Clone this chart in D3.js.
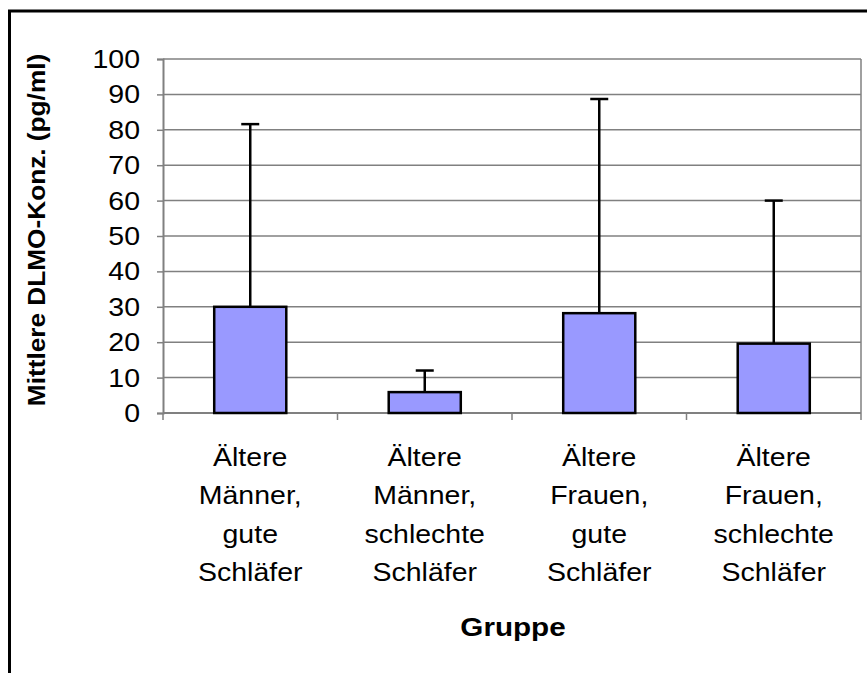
<!DOCTYPE html>
<html>
<head>
<meta charset="utf-8">
<script src="https://cdn.jsdelivr.net/npm/d3@7"></script>
<style>
  html, body { margin: 0; padding: 0; background: #fff; }
  svg { display: block; }
  text { font-family: Arial, "Liberation Sans", sans-serif; fill: #000; }
</style>
</head>
<body>
<svg id="chart" width="867" height="673"></svg>
<script>
// ---- data ----
const categories = [
  ["Ältere", "Männer,", "gute", "Schläfer"],
  ["Ältere", "Männer,", "schlechte", "Schläfer"],
  ["Ältere", "Frauen,", "gute", "Schläfer"],
  ["Ältere", "Frauen,", "schlechte", "Schläfer"]
];
const means = [30, 5.9, 28.2, 19.6];
const errors = [51.6, 6.1, 60.5, 40.4];
const yTicks = [0, 10, 20, 30, 40, 50, 60, 70, 80, 90, 100];
const yTitle = "Mittlere DLMO-Konz. (pg/ml)";
const xTitle = "Gruppe";

// ---- layout ----
const svg = d3.select("#chart");
const plot = { left: 163, right: 861, top: 59, bottom: 413 };
const sx = 1.14; // horizontal text stretch

const ids = categories.map((d, i) => i);
const x = d3.scaleBand().domain(ids).range([plot.left, plot.right])
  .paddingInner(0.587).paddingOuter(0.2935);
const y = d3.scaleLinear().domain([0, 100]).range([plot.bottom, plot.top]);
const step = x.step();

// outer border
svg.append("rect").attr("x", 9.5).attr("y", 11).attr("width", 900).attr("height", 700)
  .attr("fill", "none").attr("stroke", "#000").attr("stroke-width", 3);

// gridlines
svg.append("g").selectAll("line").data(yTicks.filter(t => t > 0)).join("line")
  .attr("x1", plot.left).attr("x2", plot.right)
  .attr("y1", d => y(d)).attr("y2", d => y(d))
  .attr("stroke", "#808080").attr("stroke-width", 1.5);

// right frame line
svg.append("line").attr("x1", plot.right).attr("x2", plot.right)
  .attr("y1", y(100)).attr("y2", y(0))
  .attr("stroke", "#808080").attr("stroke-width", 1.5);

// y axis
const yAxis = d3.axisLeft(y).tickValues(yTicks).tickSize(6).tickFormat("");
const gy = svg.append("g").attr("transform", `translate(${plot.left},0)`).call(yAxis);
gy.select(".domain").attr("stroke", "#808080").attr("stroke-width", 2);
gy.selectAll(".tick line").attr("stroke", "#808080").attr("stroke-width", 1.5);

// y tick labels
svg.append("g").selectAll("text").data(yTicks).join("text")
  .attr("transform", d => `translate(140,${y(d) + 9}) scale(${sx},1)`)
  .attr("text-anchor", "end")
  .style("font-size", "25px")
  .text(d => d);

// x axis
const xTickPos = d3.range(categories.length + 1).map(i => plot.left + i * step);
const gx = svg.append("g");
gx.append("line").attr("x1", plot.left).attr("x2", plot.right)
  .attr("y1", plot.bottom).attr("y2", plot.bottom)
  .attr("stroke", "#808080").attr("stroke-width", 2);
gx.selectAll("line.tk").data(xTickPos).join("line").attr("class", "tk")
  .attr("x1", d => d).attr("x2", d => d)
  .attr("y1", plot.bottom).attr("y2", plot.bottom + 7)
  .attr("stroke", "#808080").attr("stroke-width", 1.5);

// bars
svg.append("g").selectAll("rect").data(ids).join("rect")
  .attr("x", i => x(i)).attr("width", x.bandwidth())
  .attr("y", i => y(means[i])).attr("height", i => y(0) - y(means[i]))
  .attr("fill", "#9999FF").attr("stroke", "#000").attr("stroke-width", 2.5);

// error bars
const eb = svg.append("g");
eb.selectAll("line.v").data(ids).join("line").attr("class", "v")
  .attr("x1", i => x(i) + x.bandwidth() / 2).attr("x2", i => x(i) + x.bandwidth() / 2)
  .attr("y1", i => y(means[i])).attr("y2", i => y(means[i] + errors[i]))
  .attr("stroke", "#000").attr("stroke-width", 2.5);
eb.selectAll("line.c").data(ids).join("line").attr("class", "c")
  .attr("x1", i => x(i) + x.bandwidth() / 2 - 9).attr("x2", i => x(i) + x.bandwidth() / 2 + 9)
  .attr("y1", i => y(means[i] + errors[i])).attr("y2", i => y(means[i] + errors[i]))
  .attr("stroke", "#000").attr("stroke-width", 2.5);

// category labels
const lineBase = [466, 504, 543, 581];
const cl = svg.append("g");
ids.forEach(i => {
  categories[i].forEach((t, j) => {
    cl.append("text")
      .attr("transform", `translate(${x(i) + x.bandwidth() / 2},${lineBase[j]}) scale(${sx},1)`)
      .attr("text-anchor", "middle")
      .style("font-size", "25px")
      .text(t);
  });
});

// axis titles
svg.append("text")
  .attr("transform", `translate(513,636) scale(${sx},1)`)
  .attr("text-anchor", "middle")
  .style("font-size", "26px").style("font-weight", "bold")
  .text(xTitle);

svg.append("text")
  .attr("transform", `translate(45,230) rotate(-90) scale(${sx},1)`)
  .attr("text-anchor", "middle")
  .style("font-size", "23px").style("font-weight", "bold")
  .text(yTitle);
</script>
</body>
</html>
